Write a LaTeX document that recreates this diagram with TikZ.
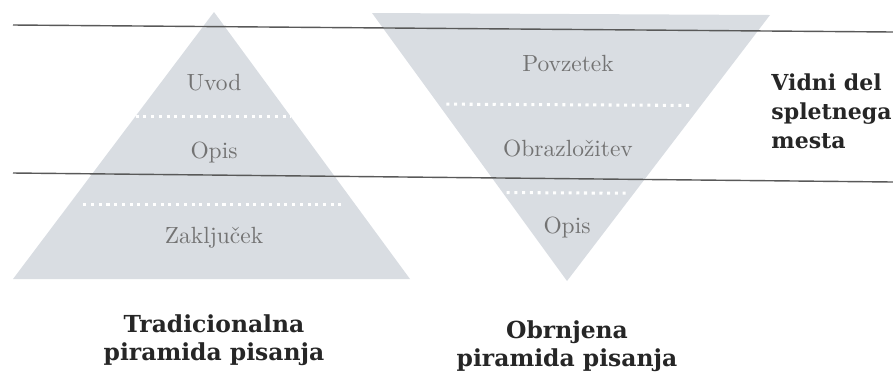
\documentclass[tikz,border=0pt]{standalone}
\usepackage{fontspec}
\newfontfamily\slabfont{DejaVu Serif}
\usetikzlibrary{calc}

\definecolor{pyrfill}{RGB}{217,221,226}
\definecolor{labelgray}{RGB}{115,115,115}

\tikzset{
    layer/.style={text=labelgray},
    caption/.style={font=\slabfont\bfseries, align=center, text=black!85},
    sepline/.style={white, dotted, line width=1.3pt},
    rule/.style={draw=black!65, line width=0.6pt}
}

\begin{document}
\begin{tikzpicture}[x=0.015cm, y=-0.015cm]
    \useasboundingbox (0,0) rectangle (893,374);

    % traditional pyramid
    \coordinate (TA) at (214,12);
    \fill[pyrfill] (TA) -- (13,279) coordinate (TB) -- (410,279) coordinate (TC) -- cycle;
    % inverted pyramid
    \fill[pyrfill] (372,13) coordinate (IA) -- (770,15) coordinate (IB) -- (567,281) coordinate (IC) -- cycle;

    % white dotted separators
    \draw[sepline] ($(TA)!0.39!(TB)$) -- ($(TA)!0.39!(TC)$);
    \draw[sepline] ($(TA)!0.72!(TB)+(14,0)$) -- ($(TA)!0.72!(TC)-(14,0)$);
    \draw[sepline] ($(IA)!0.34!(IC)+(8,0)$) -- ($(IB)!0.34!(IC)-(8,0)$);
    \draw[sepline] ($(IA)!0.67!(IC)+(4,0)$) -- ($(IB)!0.67!(IC)-(4,0)$);

    % horizontal rules
    \coordinate (L1) at (13,25);
    \coordinate (R1) at (893,32);
    \coordinate (L2) at (13,173);
    \coordinate (R2) at (893,182);
    \draw[rule] (L1) -- (R1);
    \draw[rule] (L2) -- (R2);

    \node[layer] (uvod) at (214,83) {Uvod};
    \node[layer] (opisA) at (214,153) {Opis};
    \node[layer] (zakljucek) at (214,238) {Zaključek};
    \node[layer] (povzetek) at (568,63) {Povzetek};
    \node[layer] (obrazlozitev) at (568,148) {Obrazložitev};
    \node[layer] (opisB) at (567,228) {Opis};

    \node[caption] (trad) at (214,340) {Tradicionalna\\piramida pisanja};
    \node[caption] (obrn) at (567,346) {Obrnjena\\piramida pisanja};
    \node[caption, anchor=west, align=left, inner sep=0pt,
          font=\slabfont\bfseries\fontsize{9.4}{12.3}\selectfont] (vidni) at (771,111) {Vidni del\\spletnega\\mesta};
\end{tikzpicture}
\end{document}
